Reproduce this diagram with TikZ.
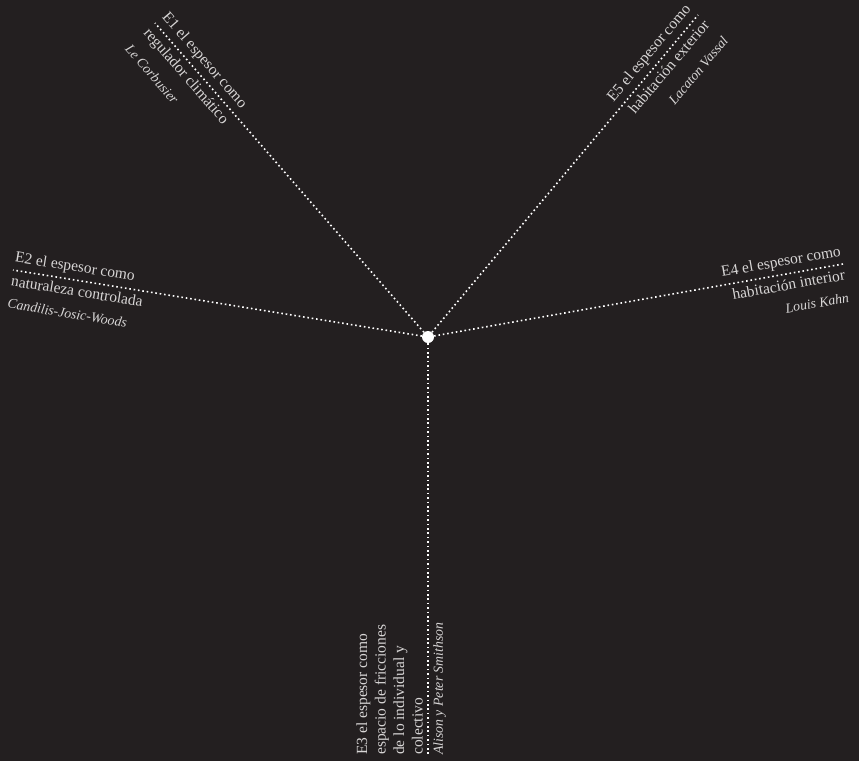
\documentclass[tikz,border=0pt]{standalone}
\usepackage{fontspec}
\setmainfont{Liberation Serif}
\definecolor{fondo}{RGB}{35,31,32}
\definecolor{letra}{RGB}{215,213,213}

\tikzset{
	linea/.style={white,line width=1.6pt,dash pattern=on 1.6pt off 2.8pt},
	texto/.style={text=letra,font=\fontsize{15.5}{18.5}\selectfont,inner xsep=0pt,inner ysep=5pt}
}
\def\autor#1{{\fontsize{13.8}{16}\selectfont\itshape #1}}

% rama con el texto al principio de la linea
\def\ramaizq#1#2#3#4{
	\draw[linea] (centro) -- (#1);
	\node[texto,rotate=#2,anchor=south west,align=left] (#1a) at (#1) {#3};
	\node[texto,rotate=#2,anchor=north west,align=left] (#1b) at (#1) {#4};
}
% rama con el texto al final de la linea
\def\ramader#1#2#3#4{
	\draw[linea] (centro) -- (#1);
	\node[texto,rotate=#2,anchor=south east,align=right] (#1a) at (#1) {#3};
	\node[texto,rotate=#2,anchor=north east,align=right] (#1b) at (#1) {#4};
}

\begin{document}
\begin{tikzpicture}[x=1pt,y=-1pt]
\useasboundingbox (0,0) rectangle (859,761);
\fill[fondo] (0,0) rectangle (859,761);
\node[circle,fill=white,inner sep=0pt,minimum size=12pt] (centro) at (428,337) {};
\coordinate (e1) at (155,23);
\coordinate (e2) at (13,270);
\coordinate (e3) at (428,755);
\coordinate (e4) at (843,264);
\coordinate (e5) at (698,15);
\ramaizq{e1}{-49}{E1 el espesor como}{regulador climático\\[6pt]\autor{Le Corbusier}}
\ramaizq{e2}{-9.2}{E2 el espesor como}{naturaleza controlada\\[4pt]\autor{Candilis-Josic-Woods}}
\ramaizq{e3}{90}{E3 el espesor como\\espacio de fricciones\\de lo individual y\\colectivo}{\autor{Alison y Peter Smithson}}
\ramader{e4}{10}{E4 el espesor como}{habitación interior\\[4pt]\autor{Louis Kahn}}
\ramader{e5}{50}{E5 el espesor como}{habitación exterior\\[6pt]\autor{Lacaton Vassal}}
\end{tikzpicture}
\end{document}
